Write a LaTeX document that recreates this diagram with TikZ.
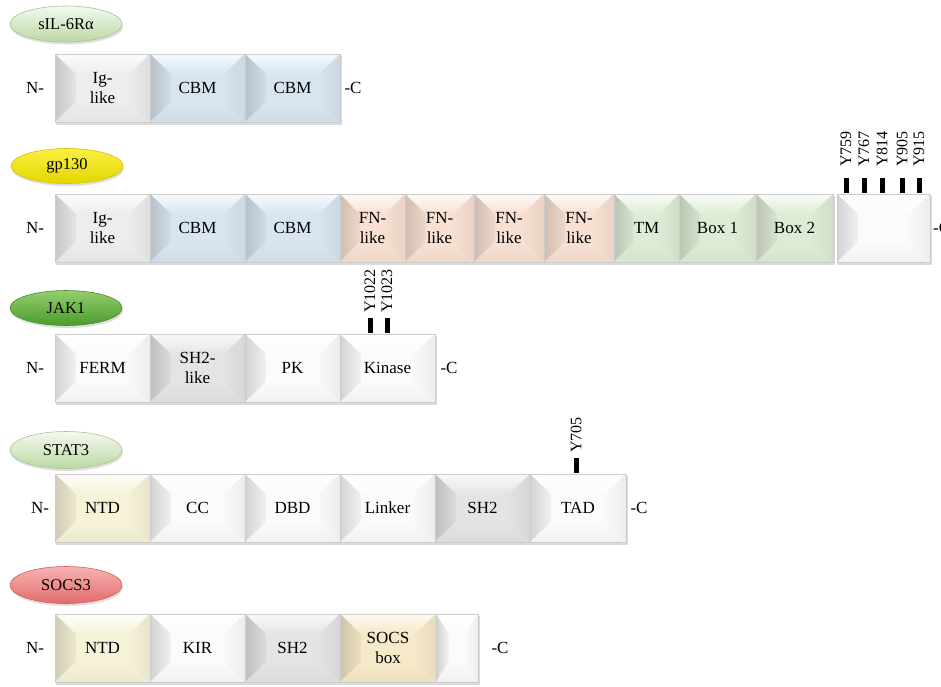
\documentclass[tikz,border=0pt]{standalone}
\usepackage{fontspec}
\setmainfont{Liberation Serif}
\usetikzlibrary{shapes.geometric,shadows,calc}
\definecolor{igc}{HTML}{EDEDED}
\definecolor{cbmc}{HTML}{D8E5F1}
\definecolor{fnc}{HTML}{F8E0D2}
\definecolor{tmc}{HTML}{DFECD5}
\definecolor{whc}{HTML}{FBFBFB}
\definecolor{shc}{HTML}{E4E4E4}
\definecolor{ntdc}{HTML}{F6F3D8}
\definecolor{sbc}{HTML}{F6E9C9}
\definecolor{pgA}{HTML}{F4F9EF}
\definecolor{pgB}{HTML}{BBD9A3}
\definecolor{pgD}{HTML}{A7C391}
\definecolor{yeA}{HTML}{FAF040}
\definecolor{yeB}{HTML}{E4D600}
\definecolor{yeD}{HTML}{D2C400}
\definecolor{jkA}{HTML}{93CE6E}
\definecolor{jkB}{HTML}{4C9C2C}
\definecolor{jkD}{HTML}{478A2C}
\definecolor{soA}{HTML}{F7B3B3}
\definecolor{soB}{HTML}{E26C6C}
\definecolor{soD}{HTML}{D25E5E}
\tikzset{
  domtext/.style={font=\fontsize{17}{20}\selectfont, align=center, inner sep=0pt},
  domline/.style={draw=black!20, line width=0.6pt},
  term/.style={font=\fontsize{17}{20}\selectfont, inner sep=0pt},
  prot/.style={ellipse, minimum width=112pt, minimum height=36pt, inner sep=0pt,
    font=\fontsize{16.5}{19}\selectfont, line width=0.6pt,
    drop shadow={opacity=0.25, shadow xshift=1pt, shadow yshift=-2.5pt}},
  tickmark/.style={rectangle, fill=black, minimum width=5pt, minimum height=15pt, inner sep=0pt},
  ylab/.style={rotate=90, anchor=west, inner sep=0pt, font=\fontsize{16}{19}\selectfont},
}
% #1 name, #2 x0, #3 x1, #4 ytop, #5 colour, #6 text
\newcommand{\dom}[6]{%
  \pgfmathsetmacro\xa{#2}\pgfmathsetmacro\xb{#3}\pgfmathsetmacro\ya{#4}%
  \pgfmathsetmacro\yb{#4+68}\pgfmathsetmacro\ym{#4+34}%
  \pgfmathsetmacro\ins{min(21,(#3-#2)*0.3)}%
  \pgfmathsetmacro\xl{#2+\ins}\pgfmathsetmacro\xr{#3-\ins}%
  \pgfmathsetmacro\yc{#4+20}\pgfmathsetmacro\yd{#4+48}%
  \fill[black!14] (\xa+1,\ya+2) rectangle (\xb+1.5,\yb+3);
  \fill[#5] (\xa,\ya) rectangle (\xb,\yb);
  \shade[top color=#5!20!white, bottom color=#5] (\xa,\ya) -- (\xb,\ya) -- (\xr,\yc) -- (\xl,\yc) -- cycle;
  \shade[left color=#5!84!black, right color=#5!96!black] (\xa,\ya) -- (\xl,\yc) -- (\xl,\yd) -- (\xa,\yb) -- cycle;
  \shade[left color=#5!99!black, right color=#5!94!black] (\xb,\ya) -- (\xr,\yc) -- (\xr,\yd) -- (\xb,\yb) -- cycle;
  \shade[top color=#5, bottom color=#5!96!black] (\xa,\yb) -- (\xl,\yd) -- (\xr,\yd) -- (\xb,\yb) -- cycle;
  \draw[domline] (\xa,\ya) rectangle (\xb,\yb);
  \node[domtext] (#1) at ({(#2+#3)/2},\ym) {#6};
}
\begin{document}
\begin{tikzpicture}[x=1pt,y=-1pt]
\useasboundingbox (0,0) rectangle (941,686);
% ---------------- sIL-6Ra
\node[prot, top color=pgA, bottom color=pgB, draw=pgD] (sil) at (66,24) {sIL-6Rα};
\node[term] (silN) at (35,88) {N-};
\dom{silig}{55}{150}{54}{igc}{Ig-\\like}
\dom{silcbma}{150}{245}{54}{cbmc}{CBM}
\dom{silcbmb}{245}{340}{54}{cbmc}{CBM}
\node[term] (silC) at (353,88) {-C};
% ---------------- gp130
\node[prot, top color=yeA, bottom color=yeB, draw=yeD, minimum height=35pt] (gp) at (67,166) {gp130};
\node[term] (gpN) at (35,228) {N-};
\dom{gpig}{55}{150}{194}{igc}{Ig-\\like}
\dom{gpcbma}{150}{245}{194}{cbmc}{CBM}
\dom{gpcbmb}{245}{340}{194}{cbmc}{CBM}
\dom{gpfna}{340}{405}{194}{fnc}{FN-\\like}
\dom{gpfnb}{405}{474}{194}{fnc}{FN-\\like}
\dom{gpfnc}{474}{544}{194}{fnc}{FN-\\like}
\dom{gpfnd}{544}{614}{194}{fnc}{FN-\\like}
\dom{gptm}{614}{679}{194}{tmc}{TM}
\dom{gpboxa}{679}{756}{194}{tmc}{Box 1}
\dom{gpboxb}{756}{833}{194}{tmc}{Box 2}
\dom{gpend}{837}{930}{194}{whc}{}
\node[term, anchor=west] (gpC) at (933,228) {-C};
\node[tickmark] (t759) at (846,185.5) {};
\node[tickmark] (t767) at (864,185.5) {};
\node[tickmark] (t814) at (882,185.5) {};
\node[tickmark] (t905) at (902,185.5) {};
\node[tickmark] (t915) at (919,185.5) {};
\node[ylab] (l759) at ([yshift=11pt]t759.north) {Y759};
\node[ylab] (l767) at ([yshift=11pt]t767.north) {Y767};
\node[ylab] (l814) at ([yshift=11pt]t814.north) {Y814};
\node[ylab] (l905) at ([yshift=11pt]t905.north) {Y905};
\node[ylab] (l915) at ([yshift=11pt]t915.north) {Y915};
% ---------------- JAK1
\node[prot, top color=jkA, bottom color=jkB, draw=jkD, minimum height=35pt] (jak) at (66,308) {JAK1};
\node[term] (jakN) at (35,368) {N-};
\dom{jakferm}{55}{150}{334}{whc}{FERM}
\dom{jaksh}{150}{245}{334}{shc}{SH2-\\like}
\dom{jakpk}{245}{340}{334}{whc}{PK}
\dom{jakkin}{340}{435}{334}{whc}{Kinase}
\node[term] (jakC) at (449,368) {-C};
\node[tickmark] (t1022) at (370,325.5) {};
\node[tickmark] (t1023) at (387,325.5) {};
\node[ylab] (l1022) at ([yshift=5pt]t1022.north) {Y1022};
\node[ylab] (l1023) at ([yshift=5pt]t1023.north) {Y1023};
% ---------------- STAT3
\node[prot, top color=pgA, bottom color=pgB, draw=pgD, minimum height=37pt] (stat) at (66,450) {STAT3};
\node[term] (statN) at (40,508) {N-};
\dom{statntd}{55}{150}{474}{ntdc}{NTD}
\dom{statcc}{150}{245}{474}{whc}{CC}
\dom{statdbd}{245}{340}{474}{whc}{DBD}
\dom{statlnk}{340}{435}{474}{whc}{Linker}
\dom{statsh}{435}{530}{474}{shc}{SH2}
\dom{stattad}{530}{626}{474}{whc}{TAD}
\node[term] (statC) at (639,508) {-C};
\node[tickmark] (t705) at (576,465.5) {};
\node[ylab] (l705) at ([yshift=5pt]t705.north) {Y705};
% ---------------- SOCS3
\node[prot, top color=soA, bottom color=soB, draw=soD, minimum height=37pt] (socs) at (66,585) {SOCS3};
\node[term] (socsN) at (35,648) {N-};
\dom{socsntd}{55}{150}{614}{ntdc}{NTD}
\dom{socskir}{150}{245}{614}{whc}{KIR}
\dom{socssh}{245}{340}{614}{shc}{SH2}
\dom{socsbox}{340}{436}{614}{sbc}{SOCS\\box}
\dom{socsend}{436}{478}{614}{whc}{}
\node[term] (socsC) at (500,648) {-C};
\end{tikzpicture}
\end{document}
